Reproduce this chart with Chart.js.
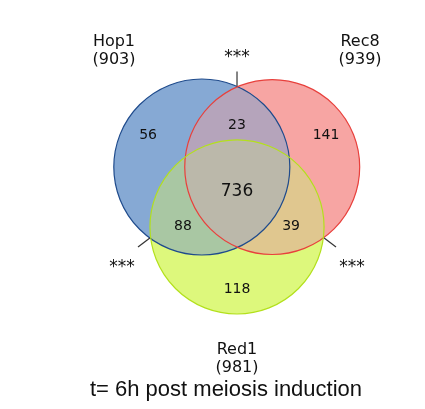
<!DOCTYPE html>
<html>
<head>
<meta charset="utf-8">
<script src="https://cdn.jsdelivr.net/npm/chart.js@4/dist/chart.umd.min.js"></script>
<style>
  body { margin: 0; background: #fff; }
  #wrap { width: 425px; height: 409px; }
</style>
</head>
<body>
<div id="wrap"><canvas id="venn" width="425" height="409"></canvas></div>
<script>
// sets (circles)
const setNames = ['Hop1', 'Rec8', 'Red1'];
const setSizes = [903, 939, 981];
const centerX = [-0.40, 0.40, 0.0];
const centerY = [0.227, 0.227, -0.454];
const radii = [1.0, 0.994, 0.989];
const fillColors = ['#86a9d4', '#f7a5a3', '#ddf87c'];
const edgeColors = ['#1f4b8c', '#e8403c', '#b3e01c'];

// region counts: A only, B only, C only, AB, AC, BC, ABC
const regionCounts = [56, 141, 118, 23, 88, 39, 736];
const regionX = [-1.011, 1.011, 0.0, 0.0, -0.614, 0.614, 0.0];
const regionY = [0.591, 0.591, -1.159, 0.705, -0.443, -0.443, -0.057];
const mixColors = ['#b5a4bb', '#a9c7a3', '#e0c78f', '#bbb8aa'];

// set labels position
const labelX = [-1.398, 1.398, 0.0];
const labelY = [1.55, 1.55, -1.95];

// significance markers
const starX = [0.0, -1.307, 1.307];
const starY = [1.466, -0.92, -0.92];
const tickFromX = [0.0, -1.125, 1.125];
const tickFromY = [1.312, -0.682, -0.682];
const tickToX = [0.0, -0.99, 0.99];
const tickToY = [1.146, -0.58, -0.58];

const chartTitle = 't= 6h post meiosis induction';

function unitPx(chart) {
  const s = chart.scales.x;
  return s.getPixelForValue(1) - s.getPixelForValue(0);
}

const vennPlugin = {
  id: 'venn',
  afterDatasetsDraw(chart) {
    const ctx = chart.ctx;
    const x = chart.scales.x, y = chart.scales.y;
    const circ = chart.data.datasets.map((d, i) => {
      const el = chart.getDatasetMeta(i).data[0];
      return { x: el.x, y: el.y, r: el.options.radius };
    });
    const path = c => { ctx.beginPath(); ctx.arc(c.x, c.y, c.r, 0, Math.PI * 2); };

    // overlap fills
    const overlaps = [[0, 1], [0, 2], [1, 2], [0, 1, 2]];
    overlaps.forEach((grp, k) => {
      ctx.save();
      grp.slice(0, -1).forEach(i => { path(circ[i]); ctx.clip(); });
      path(circ[grp[grp.length - 1]]);
      ctx.fillStyle = mixColors[k];
      ctx.fill();
      ctx.restore();
    });

    // outlines on top
    circ.forEach((c, i) => {
      ctx.save();
      path(c);
      ctx.lineWidth = 1.2;
      ctx.strokeStyle = edgeColors[i];
      ctx.stroke();
      ctx.restore();
    });

    ctx.save();
    ctx.textAlign = 'center';
    ctx.textBaseline = 'middle';
    ctx.fillStyle = '#111';

    // region numbers
    regionCounts.forEach((n, i) => {
      ctx.font = (i === 6 ? '17px' : '14px') + ' "DejaVu Sans"';
      ctx.fillText(String(n), x.getPixelForValue(regionX[i]), y.getPixelForValue(regionY[i]));
    });

    // set names
    ctx.font = '16px "DejaVu Sans"';
    setNames.forEach((name, i) => {
      const px = x.getPixelForValue(labelX[i]);
      const py = y.getPixelForValue(labelY[i]);
      ctx.fillText(name, px, py - 9);
      ctx.fillText('(' + setSizes[i] + ')', px, py + 9);
    });

    // stars + ticks
    ctx.font = '17px "DejaVu Sans"';
    starX.forEach((sx, i) => {
      ctx.fillText('***', x.getPixelForValue(sx), y.getPixelForValue(starY[i]));
      ctx.beginPath();
      ctx.moveTo(x.getPixelForValue(tickFromX[i]), y.getPixelForValue(tickFromY[i]));
      ctx.lineTo(x.getPixelForValue(tickToX[i]), y.getPixelForValue(tickToY[i]));
      ctx.lineWidth = 1.2;
      ctx.strokeStyle = '#333';
      ctx.stroke();
    });

    // title
    ctx.font = '22px "Liberation Sans", Arial, sans-serif';
    ctx.fillText(chartTitle, x.getPixelForValue(-0.125), y.getPixelForValue(-2.31));
    ctx.restore();
  }
};

new Chart(document.getElementById('venn'), {
  type: 'scatter',
  data: {
    datasets: setNames.map((name, i) => ({
      label: name,
      data: [{ x: centerX[i], y: centerY[i] }],
      backgroundColor: fillColors[i],
      borderColor: edgeColors[i],
      borderWidth: 0,
      pointRadius: ctx => radii[i] * unitPx(ctx.chart),
      pointHoverRadius: ctx => radii[i] * unitPx(ctx.chart)
    }))
  },
  options: {
    responsive: false,
    animation: false,
    events: [],
    layout: { padding: 0 },
    plugins: { legend: { display: false }, tooltip: { enabled: false } },
    scales: {
      x: { type: 'linear', min: -2.693, max: 2.136, display: false },
      y: { type: 'linear', min: -2.523, max: 2.125, display: false }
    }
  },
  plugins: [vennPlugin]
});
</script>
</body>
</html>
